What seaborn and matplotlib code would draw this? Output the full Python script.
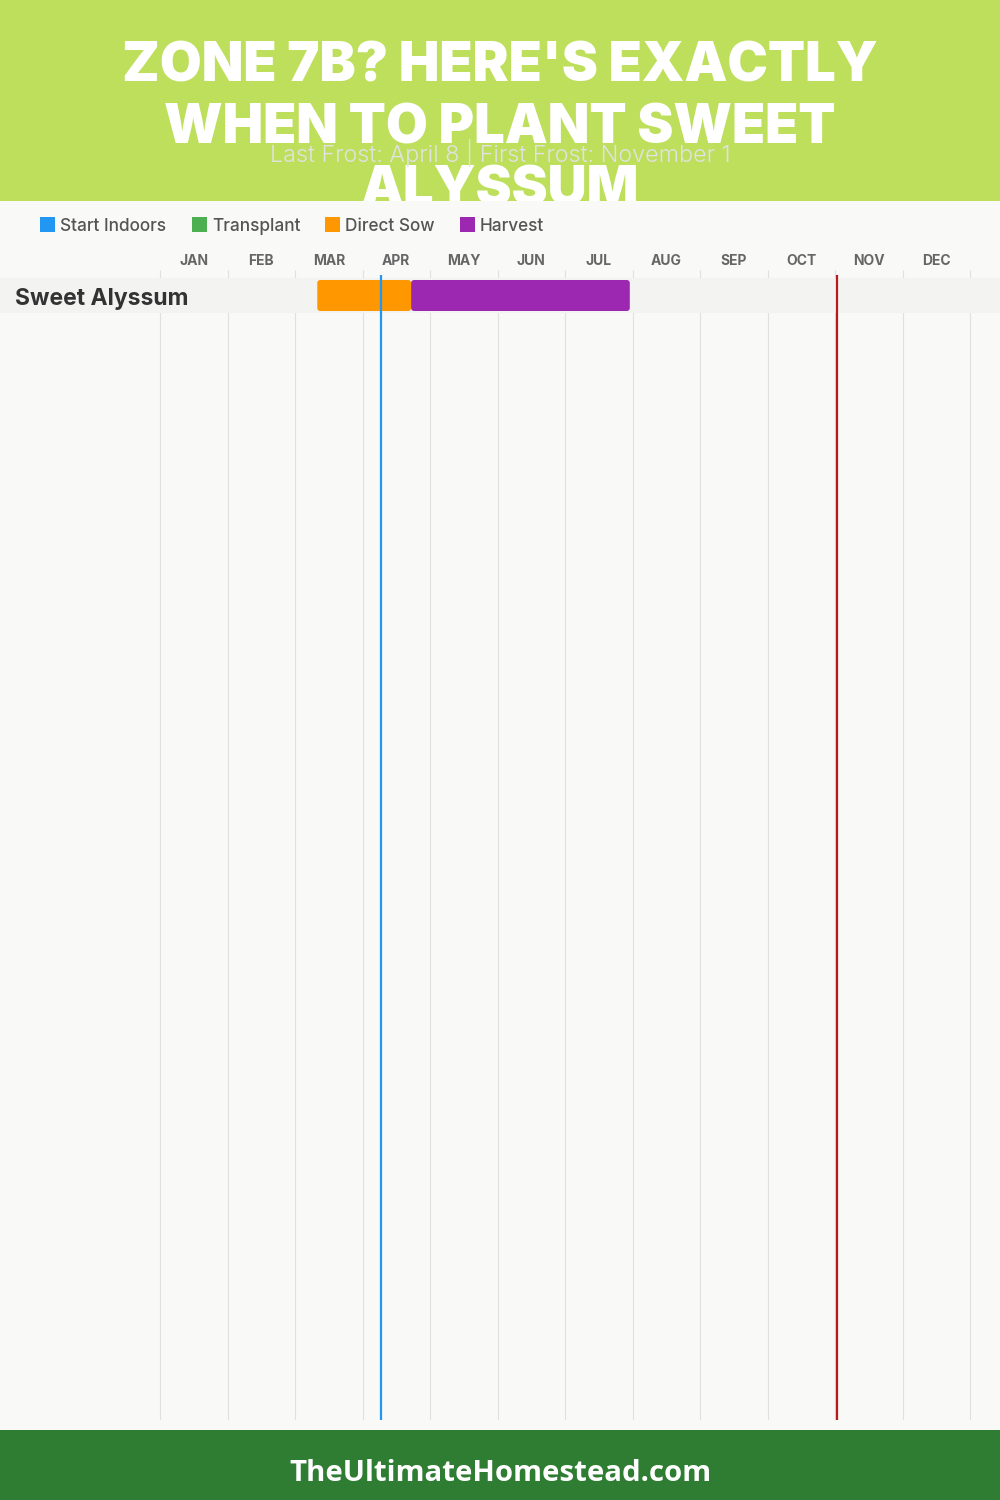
import matplotlib
matplotlib.use("Agg")
import matplotlib.pyplot as plt
import seaborn as sns
import pandas as pd
import numpy as np
from matplotlib.patches import Rectangle, FancyBboxPatch
from matplotlib.transforms import blended_transform_factory

# ---------------- data ----------------
TITLE_LINES = ["ZONE 7B? HERE'S EXACTLY", "WHEN TO PLANT SWEET", "ALYSSUM"]
SUBTITLE = "Last Frost: April 8 | First Frost: November 1"
MONTHS = ["JAN", "FEB", "MAR", "APR", "MAY", "JUN",
          "JUL", "AUG", "SEP", "OCT", "NOV", "DEC"]
LEGEND_LABELS = ["Start Indoors", "Transplant", "Direct Sow", "Harvest"]
LEGEND_COLORS = ["#2196F3", "#4CAF50", "#FF9800", "#9C27B0"]
CROPS = ["Sweet Alyssum"]
STAGE_CROP = ["Sweet Alyssum", "Sweet Alyssum"]
STAGE_NAME = ["Direct Sow", "Harvest"]
STAGE_START = [2.33, 3.72]   # months since Jan 1
STAGE_END = [3.72, 6.96]
LAST_FROST = 3.267           # April 8
FIRST_FROST = 10.033         # November 1
FOOTER = "TheUltimateHomestead.com"

df = pd.DataFrame({"crop": STAGE_CROP, "stage": STAGE_NAME,
                   "start": STAGE_START, "end": STAGE_END})
df["dur"] = df["end"] - df["start"]
stage_colors = dict(zip(LEGEND_LABELS, LEGEND_COLORS))

# ---------------- figure ----------------
sns.set_theme(style="white")
FONT = ["Inter", "DejaVu Sans"]
plt.rcParams["font.family"] = FONT

W, H = 1000, 1500
fig = plt.figure(figsize=(10, 15), dpi=100)
fig.patch.set_facecolor("#F9F9F8")

def fy(px):
    return 1 - px / H

# header band
fig.patches.append(Rectangle((0, fy(201)), 1, 201 / H, transform=fig.transFigure,
                             facecolor="#BEDF5C", edgecolor="none", zorder=0))
# title lines (clipped by body background drawn above)
for i, line in enumerate(TITLE_LINES):
    fig.text(0.5, fy(81 + 62 * i), line, ha="center", va="baseline",
             fontsize=39, fontweight=900, color="white", family=FONT, zorder=1)
fig.text(0.5, fy(162), SUBTITLE, ha="center", va="baseline", fontsize=16.8,
         fontweight=300, color="#E2E2E2", family=FONT, zorder=1.5)
# body background covering title overflow
fig.patches.append(Rectangle((0, fy(1430)), 1, (1430 - 201) / H, transform=fig.transFigure,
                             facecolor="#F9F9F8", edgecolor="none", zorder=2))
# footer
fig.patches.append(Rectangle((0, 0), 1, 70 / H, transform=fig.transFigure,
                             facecolor="#2E7D32", edgecolor="none", zorder=2))
fig.text(0.5, fy(1473.5), FOOTER, ha="center", va="center", fontsize=21.2,
         fontweight="bold", color="white", family=["Open Sans", "DejaVu Sans"], zorder=3)

# legend
leg_x = [40, 192, 325, 460]
for x, lab, col in zip(leg_x, LEGEND_LABELS, LEGEND_COLORS):
    fig.patches.append(Rectangle((x / W, fy(232)), 15 / W, 15 / H, transform=fig.transFigure,
                                 facecolor=col, edgecolor="none", zorder=3))
    fig.text((x + 20) / W, fy(226.5), lab, ha="left", va="center", fontsize=12.4,
             color="#555555", family=FONT, fontweight=500, zorder=3)

# chart axes: spans full width, from y=270 to y=1420 px
ax = fig.add_axes([0, fy(1420), 1, (1420 - 270) / H], zorder=4)
ax.patch.set_alpha(0)

ROW_PX = 35.0
x0_px, month_px = 160.0, 67.5
xlim = (-x0_px / month_px, (W - x0_px) / month_px)
top_unit = -(295.5 - 270) / ROW_PX
bot_unit = (1420 - 295.5) / ROW_PX

for stage in STAGE_NAME:
    sub = df[df["stage"] == stage]
    sns.barplot(data=sub, x="dur", y="crop", order=CROPS, left=sub["start"].values,
                color=stage_colors[stage], width=31 / ROW_PX, saturation=1,
                ax=ax, zorder=2, linewidth=0, edgecolor="none")

# rounded corners
for p in list(ax.patches):
    x, y = p.get_x(), p.get_y()
    w, h = p.get_width(), p.get_height()
    fc = p.get_facecolor()
    p.set_visible(False)
    ax.add_patch(FancyBboxPatch((x, y), w, h,
                                boxstyle=f"round,pad=0,rounding_size={3 / month_px}",
                                mutation_aspect=month_px / ROW_PX,
                                facecolor=fc, edgecolor="none", zorder=2))

ax.axhspan(-0.5, 0.5, color="#F3F3F2", zorder=1, lw=0)
ax.vlines(np.arange(13), bot_unit, top_unit, color="#E0E0E0", lw=0.8, zorder=0)
fr_top = -(295.5 - 275) / ROW_PX
ax.vlines([LAST_FROST], bot_unit, fr_top, color="#2196F3", lw=1.6, zorder=3)
ax.vlines([FIRST_FROST], bot_unit, fr_top, color="#B71C1C", lw=1.6, zorder=3)

ax.set_xlim(*xlim)
ax.set_ylim(bot_unit, top_unit)
ax.xaxis.tick_top()
ax.set_xticks(np.arange(12) + 0.5, MONTHS)
ax.tick_params(axis="x", length=0, pad=1.5, labelsize=10, labelcolor="#666666")
for t in ax.get_xticklabels():
    t.set_fontweight("bold")
ax.set_yticks([])
ax.set_xlabel("")
ax.set_ylabel("")
for s in ax.spines.values():
    s.set_visible(False)

for i, crop in enumerate(CROPS):
    ax.text(15 / W, i + 3 / ROW_PX, crop,
            transform=blended_transform_factory(ax.transAxes, ax.transData),
            ha="left", va="center", fontsize=16.5, fontweight="bold", color="#333333",
            zorder=5)

fig.savefig("out.png", dpi=100, facecolor=fig.get_facecolor())
